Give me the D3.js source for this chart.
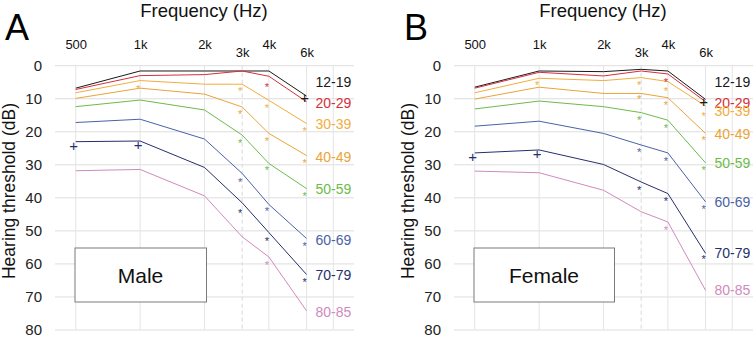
<!DOCTYPE html>
<html><head><meta charset="utf-8">
<script src="https://cdn.jsdelivr.net/npm/d3@7"></script>
<style>
html,body{margin:0;padding:0;background:#fff;}
svg{display:block;font-family:Arial,"Liberation Sans",sans-serif;}
</style></head>
<body>
<svg id="chart" width="754" height="337"></svg>
<script>
// ---------- DATA ----------
const frequencies = [500, 1000, 2000, 3000, 4000, 6000];
const tickFreqs = [500, 1000, 2000, 3000, 4000, 6000];
const tickLabels = ["500", "1k", "2k", "3k", "4k", "6k"];
const gridFreqs = [500, 1000, 2000, 4000, 6000, 8000];
const yTicks = [0, 10, 20, 30, 40, 50, 60, 70, 80];
const ageGroups = ["12-19", "20-29", "30-39", "40-49", "50-59", "60-69", "70-79", "80-85"];
const groupColors = ["#1a1a1a", "#d42f3a", "#f0ae3c", "#e9a43a", "#6cbb4a", "#4a62a6", "#262f6c", "#d08abd"];

const male1219 = [6.8, 1.6, 1.6, 1.6, 1.6, 9.2];
const male2029 = [7.2, 3.0, 2.7, 1.6, 3.2, 10.9];
const male3039 = [8.2, 4.5, 5.6, 5.6, 10.5, 17.5];
const male4049 = [9.9, 6.8, 8.6, 12.5, 20.5, 27.2];
const male5059 = [12.4, 10.4, 13.4, 21.0, 29.6, 37.2];
const male6069 = [17.2, 16.2, 22.2, 32.6, 42.0, 52.3];
const male7079 = [23.0, 22.8, 30.8, 41.5, 50.5, 63.2];
const male8085 = [31.8, 31.4, 39.4, 51.8, 57.9, 74.2];

const female1219 = [6.5, 1.6, 1.8, 1.1, 1.6, 10.2];
const female2029 = [6.8, 2.0, 3.1, 1.6, 2.5, 10.9];
const female3039 = [8.2, 3.8, 4.5, 3.6, 4.8, 12.2];
const female4049 = [10.1, 6.5, 8.4, 8.4, 9.7, 20.5];
const female5059 = [13.1, 10.7, 12.4, 14.2, 16.5, 29.4];
const female6069 = [18.3, 16.8, 20.5, 24.0, 26.4, 41.2];
const female7079 = [26.4, 25.5, 29.9, 35.2, 38.7, 56.8];
const female8085 = [31.9, 32.4, 37.7, 44.2, 47.3, 68.0];

// significance markers: [group index, frequency, dB, symbol]
const maleMarkers = [
  [0, 6000, 9.6, "+"], [1, 4000, 5.3, "*"],
  [2, 1000, 5.8, "*"], [2, 3000, 6.5, "*"], [2, 4000, 11.7, "*"], [2, 6000, 18.5, "*"],
  [3, 3000, 13.4, "*"], [3, 4000, 21.7, "*"], [3, 6000, 28.4, "*"],
  [4, 3000, 22.2, "*"], [4, 4000, 30.6, "*"], [4, 6000, 38.2, "*"],
  [5, 3000, 34.1, "*"], [5, 4000, 43.0, "*"], [5, 6000, 53.6, "*"],
  [6, 500, 24.2, "+"], [6, 1000, 24.0, "+"], [6, 3000, 43.5, "*"], [6, 4000, 51.8, "*"], [6, 6000, 64.4, "*"],
  [7, 4000, 59.1, "*"]
];
const femaleMarkers = [
  [0, 6000, 10.9, "+"], [1, 4000, 3.8, "*"],
  [2, 1000, 4.8, "*"], [2, 3000, 4.6, "*"], [2, 4000, 6.4, "*"], [2, 6000, 14.2, "*"],
  [3, 3000, 9.1, "*"], [3, 4000, 10.9, "*"], [3, 6000, 21.5, "*"],
  [4, 3000, 15.4, "*"], [4, 4000, 17.7, "*"], [4, 6000, 30.6, "*"],
  [5, 3000, 25.0, "*"], [5, 4000, 27.6, "*"], [5, 6000, 42.4, "*"],
  [6, 500, 27.6, "+"], [6, 1000, 26.6, "+"], [6, 3000, 36.4, "*"], [6, 4000, 39.9, "*"], [6, 6000, 57.4, "*"],
  [7, 4000, 48.7, "*"]
];

// label vertical positions (dB)
const maleLabelDb = [4.9, 11.3, 17.6, 27.6, 37.4, 52.8, 63.4, 74.5];
const femaleLabelDb = [4.9, 11.3, 13.6, 20.7, 29.5, 41.3, 56.7, 67.9];

const maleSeries = [male1219, male2029, male3039, male4049, male5059, male6069, male7079, male8085];
const femaleSeries = [female1219, female2029, female3039, female4049, female5059, female6069, female7079, female8085];

// ---------- DRAW ----------
const svg = d3.select("#chart");

function drawPanel(offset, letter, sexLabel, series, markers, labelDb) {
  const g = svg.append("g").attr("transform", `translate(${offset},0)`);
  const x = d3.scaleLog().domain([400, 10000]).range([55, 354]);
  const y = d3.scaleLinear().domain([0, 80]).range([65.7, 330]);

  // horizontal grid
  g.append("g").selectAll("line").data(yTicks).join("line")
    .attr("x1", x.range()[0]).attr("x2", x.range()[1])
    .attr("y1", d => y(d)).attr("y2", d => y(d))
    .attr("stroke", "#dedede").attr("stroke-width", 1);
  // vertical grid
  g.append("g").selectAll("line").data(gridFreqs).join("line")
    .attr("x1", d => x(d)).attr("x2", d => x(d))
    .attr("y1", y(0)).attr("y2", y(80))
    .attr("stroke", "#e4e4e4").attr("stroke-width", 1);
  g.append("line")
    .attr("x1", x(3000)).attr("x2", x(3000))
    .attr("y1", y(0)).attr("y2", y(80))
    .attr("stroke", "#d8d8d8").attr("stroke-width", 1).attr("stroke-dasharray", "4,3");

  // y axis tick labels
  const yAxis = d3.axisLeft(y).tickValues(yTicks).tickSize(0).tickPadding(0);
  const ya = g.append("g").attr("transform", "translate(42,0)").call(yAxis);
  ya.select(".domain").remove();
  ya.selectAll("text").attr("font-size", 15).attr("fill", "#222")
    .attr("font-family", "Arial, 'Liberation Sans', sans-serif");

  // x axis tick labels (top)
  const xAxis = d3.axisTop(x).tickValues(tickFreqs).tickFormat((d, i) => tickLabels[i]).tickSize(0).tickPadding(0);
  const xa = g.append("g").attr("transform", "translate(0,49)").call(xAxis);
  xa.select(".domain").remove();
  xa.selectAll("text").attr("font-size", 13).attr("fill", "#111")
    .attr("font-family", "Arial, 'Liberation Sans', sans-serif")
    .attr("dy", d => (d === 3000 || d === 6000) ? 8 : 0);

  // titles
  g.append("text").attr("x", 204).attr("y", 16.5).attr("text-anchor", "middle")
    .attr("font-size", 18.5).attr("fill", "#111").text("Frequency (Hz)");
  g.append("text").attr("x", 5).attr("y", 40).attr("font-size", 36).attr("fill", "#000").text(letter);
  g.append("text").attr("transform", `translate(15,191) rotate(-90)`)
    .attr("text-anchor", "middle").attr("font-size", 17.5).attr("fill", "#111")
    .text("Hearing threshold (dB)");

  // sex box
  g.append("rect").attr("x", 75).attr("y", 248).attr("width", offset ? 140.5 : 131.5).attr("height", 54)
    .attr("fill", "#fff").attr("stroke", "#7a7a7a").attr("stroke-width", 1);
  g.append("text").attr("x", 75 + (offset ? 70 : 65.5)).attr("y", 283).attr("text-anchor", "middle")
    .attr("font-size", 21).attr("fill", "#111").text(sexLabel);

  // lines
  const line = d3.line().x((d, i) => x(frequencies[i])).y(d => y(d));
  g.append("g").selectAll("path").data(series).join("path")
    .attr("d", d => line(d))
    .attr("fill", "none")
    .attr("stroke", (d, i) => groupColors[i])
    .attr("stroke-width", 1);

  // markers
  g.append("g").selectAll("text").data(markers).join("text")
    .attr("x", d => x(d[1]) - 2)
    .attr("y", d => y(d[2]))
    .attr("text-anchor", "middle")
    .attr("dy", d => d[3] === "*" ? "0.7em" : "0.35em")
    .attr("font-size", d => d[3] === "*" ? 11 : 15)
    .attr("fill", d => groupColors[d[0]])
    .text(d => d[3]);

  // group labels
  g.append("g").selectAll("text").data(ageGroups).join("text")
    .attr("x", x(6000) + 9)
    .attr("y", (d, i) => y(labelDb[i]))
    .attr("dy", "0.35em")
    .attr("font-size", 14)
    .attr("fill", (d, i) => groupColors[i])
    .text(d => d);
}

drawPanel(0, "A", "Male", maleSeries, maleMarkers, maleLabelDb);
drawPanel(399, "B", "Female", femaleSeries, femaleMarkers, femaleLabelDb);
</script>
</body></html>
